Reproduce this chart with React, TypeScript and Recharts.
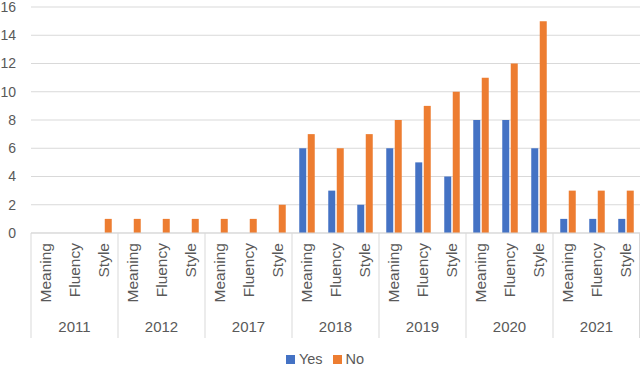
import React from 'react';
import { BarChart, Bar, XAxis, YAxis, CartesianGrid, Legend } from 'recharts';

const categories = ['Meaning', 'Fluency', 'Style'];
const years = ['2011', '2012', '2017', '2018', '2019', '2020', '2021'];
const yesValues = [0, 0, 0, 0, 0, 0, 0, 0, 0, 6, 3, 2, 6, 5, 4, 8, 8, 6, 1, 1, 1];
const noValues = [0, 0, 1, 1, 1, 1, 1, 1, 2, 7, 6, 7, 8, 9, 10, 11, 12, 15, 3, 3, 3];
const yTicks = [0, 2, 4, 6, 8, 10, 12, 14, 16];

const data = yesValues.map((v, i) => ({
  key: `${years[Math.floor(i / 3)]}-${categories[i % 3]}`,
  cat: categories[i % 3],
  year: years[Math.floor(i / 3)],
  Yes: v,
  No: noValues[i],
}));

const FONT = '"Liberation Sans", Arial, sans-serif';
const TXT = '#595959';
const LINE = '#d9d9d9';
const BLUE = '#4472C4';
const ORANGE = '#ED7D31';

const XTick = (props: any) => {
  const { x, y, payload, index } = props;
  const i = typeof index === 'number' ? index : data.findIndex((d) => d.key === payload.value);
  const half = payload && payload.offset ? payload.offset : 14.5;
  const d = data[i];
  if (!d) return null;
  return (
    <g>
      <text
        transform={`translate(${x + 5.5},${y + 10}) rotate(-90)`}
        textAnchor="end"
        fontFamily={FONT}
        fontSize={15.5}
        fill={TXT}
      >
        {d.cat}
      </text>
      {i % 3 === 1 && (
        <text x={x} y={y + 99} textAnchor="middle" fontFamily={FONT} fontSize={15} fill={TXT}>
          {d.year}
        </text>
      )}
      {i % 3 === 0 && <line x1={x - half} x2={x - half} y1={y} y2={y + 105} stroke={LINE} strokeWidth={1} />}
      {i === data.length - 1 && (
        <line x1={x + half - 0.5} x2={x + half - 0.5} y1={y} y2={y + 105} stroke={LINE} strokeWidth={1} />
      )}
    </g>
  );
};

const LegendContent = () => (
  <div
    style={{
      display: 'flex',
      justifyContent: 'center',
      alignItems: 'center',
      fontFamily: FONT,
      fontSize: 14.5,
      lineHeight: '16px',
      color: TXT,
      height: 16,
      paddingLeft: 10,
      position: 'relative',
      top: 1,
    }}
  >
    <span style={{ display: 'inline-block', width: 9, height: 9, background: BLUE, marginRight: 4 }} />
    <span style={{ marginRight: 10 }}>Yes</span>
    <span style={{ display: 'inline-block', width: 9, height: 9, background: ORANGE, marginRight: 4 }} />
    <span>No</span>
  </div>
);

export default function App() {
  return (
    <div style={{ position: 'absolute', left: 0, top: 0, width: 640, height: 368, background: '#fff' }}>
      <BarChart
        width={640}
        height={368}
        data={data}
        margin={{ top: 7, right: 0, bottom: 0, left: 0 }}
        barCategoryGap="25%"
        barGap={1.5}
      >
        <CartesianGrid vertical={false} stroke={LINE} strokeWidth={1} />
        <XAxis
          dataKey="key"
          interval={0}
          tick={<XTick />}
          tickLine={false}
          tickSize={0}
          tickMargin={0}
          height={117}
          axisLine={{ stroke: LINE }}
        />
        <YAxis
          width={31}
          domain={[0, 16]}
          ticks={yTicks}
          interval={0}
          axisLine={false}
          tickLine={false}
          tickSize={0}
          tickMargin={15}
          tick={{ fontFamily: FONT, fontSize: 14, fill: TXT }}
        />
        <Legend verticalAlign="bottom" height={18} content={<LegendContent />} />
        <Bar dataKey="Yes" fill={BLUE} isAnimationActive={false} />
        <Bar dataKey="No" fill={ORANGE} isAnimationActive={false} />
      </BarChart>
    </div>
  );
}
